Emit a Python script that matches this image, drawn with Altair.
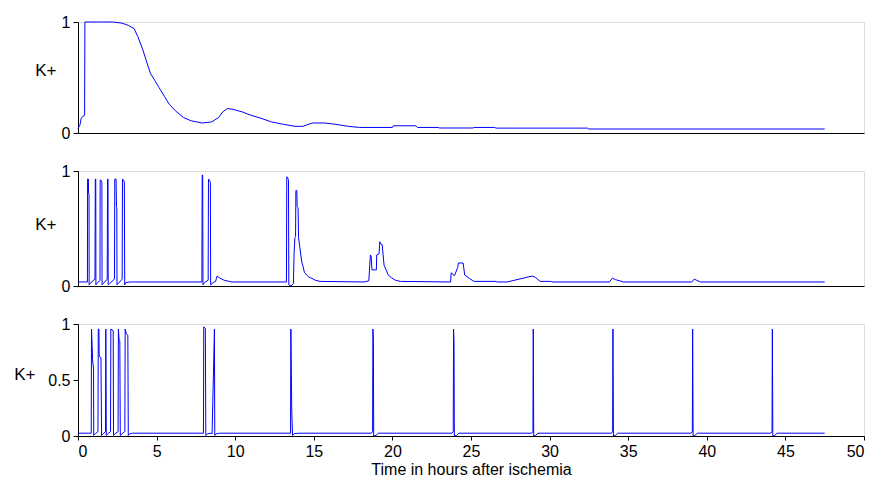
import altair as alt
import pandas as pd

# ---------------- data ----------------
top_t = [0, 0.12, 0.2, 0.3, 0.42, 0.44, 1.5, 2.2, 2.8, 3.2, 3.57, 3.8, 4.1, 4.35, 4.6, 4.9, 5.15,
         5.5, 5.8, 6.2, 6.7, 7.2, 7.9, 8.5, 8.95, 9.2, 9.5, 9.8, 10.45, 11.0, 11.7, 12.3, 13.0,
         13.8, 14.3, 14.9, 15.7, 16.3, 17.2, 17.9, 20.0, 20.05, 21.5, 21.6, 22.9, 23.0, 25.1,
         25.2, 26.5, 26.6, 32.4, 32.5, 47.5]
top_k = [0.04, 0.07, 0.13, 0.15, 0.16, 1.0, 1.0, 1.0, 0.99, 0.97, 0.94, 0.87, 0.76, 0.65, 0.54,
         0.47, 0.41, 0.33, 0.26, 0.2, 0.14, 0.11, 0.09, 0.10, 0.14, 0.19, 0.22, 0.215, 0.19, 0.16,
         0.13, 0.10, 0.08, 0.06, 0.06, 0.09, 0.09, 0.08, 0.06, 0.05, 0.05, 0.065, 0.065, 0.05,
         0.05, 0.045, 0.045, 0.05, 0.05, 0.044, 0.044, 0.036, 0.036]

mid_t = [0, 0.6, 0.61, 0.66, 0.67, 0.7, 0.71, 0.75, 1.08, 1.1, 1.13, 1.14, 1.2, 1.4, 1.41, 1.47,
         1.52, 1.53, 1.6, 1.86, 1.88, 1.91, 1.92, 2.0, 2.32, 2.34, 2.42, 2.45, 2.47, 2.48, 2.55,
         2.81, 2.83, 2.9, 2.95, 2.97, 3.05, 3.3, 7.88, 7.9, 7.93, 7.95, 8.05, 8.28, 8.3, 8.36,
         8.42, 8.44, 8.6, 8.75, 8.85, 9.0, 9.3, 9.8, 13.26, 13.28, 13.34, 13.39, 13.41, 13.55,
         13.7, 13.75, 13.8, 13.84, 13.86, 13.92, 13.94, 14.0, 14.03, 14.1, 14.17, 14.25, 14.3,
         14.4, 14.55, 14.7, 14.87, 15.1, 15.4, 18.2, 18.5, 18.6, 18.65, 18.7, 18.98, 19.0, 19.15,
         19.2, 19.3, 19.35, 19.47, 19.6, 19.73, 19.96, 20.2, 20.5, 23.7, 23.74, 23.95, 24.15,
         24.2, 24.5, 24.6, 24.9, 25.2, 26.6, 26.65, 27.3, 28.9, 29.1, 29.4, 30.1, 30.15, 33.8,
         34.0, 34.2, 34.7, 39.05, 39.2, 39.35, 39.6, 47.5]
mid_k = [0.035, 0.035, 0.93, 0.93, 0.81, 0.8, 0.01, 0.02, 0.06, 0.93, 0.93, 0.01, 0.02, 0.05,
         0.92, 0.92, 0.9, 0.01, 0.02, 0.06, 0.93, 0.93, 0.01, 0.02, 0.06, 0.93, 0.93, 0.69, 0.68,
         0.01, 0.02, 0.06, 0.93, 0.92, 0.9, 0.01, 0.03, 0.035, 0.035, 0.965, 0.965, 0.01, 0.03,
         0.05, 0.93, 0.92, 0.9, 0.01, 0.03, 0.04, 0.087, 0.07, 0.05, 0.035, 0.035, 0.95, 0.94,
         0.92, 0.01, 0.0, 0.02, 0.3, 0.42, 0.43, 0.83, 0.83, 0.69, 0.68, 0.42, 0.35, 0.27, 0.2,
         0.18, 0.12, 0.095, 0.075, 0.067, 0.05, 0.04, 0.035, 0.045, 0.27, 0.26, 0.14, 0.14, 0.27,
         0.28, 0.385, 0.36, 0.36, 0.18, 0.14, 0.096, 0.07, 0.05, 0.04, 0.035, 0.115, 0.09, 0.16,
         0.2, 0.2, 0.095, 0.065, 0.04, 0.04, 0.035, 0.035, 0.087, 0.075, 0.04, 0.04, 0.035,
         0.035, 0.068, 0.055, 0.035, 0.035, 0.06, 0.05, 0.035, 0.035]

bot_t = [0, 0.84, 0.86, 0.93, 0.99, 1.0, 1.1, 1.27, 1.29, 1.33, 1.35, 1.46, 1.5, 1.6, 1.75, 1.77,
         1.8, 1.9, 2.07, 2.09, 2.24, 2.26, 2.35, 2.55, 2.57, 2.62, 2.66, 2.69, 2.8, 2.98, 3.0,
         3.08, 3.17, 3.2, 3.3, 3.46, 7.98, 8.0, 8.1, 8.13, 8.25, 8.45, 8.53, 8.68, 8.7, 8.8, 9.0,
         13.52, 13.54, 13.6, 13.65, 13.75, 14.0,
         18.66, 18.74, 18.76, 18.79, 18.81, 18.95, 19.1,
         23.79, 23.87, 23.89, 23.92, 23.94, 24.08, 24.23,
         28.86, 28.94, 28.96, 28.99, 29.11, 29.26,
         33.93, 34.01, 34.03, 34.06, 34.18, 34.33,
         39.0, 39.08, 39.1, 39.13, 39.25, 39.4,
         44.07, 44.15, 44.17, 44.2, 44.32, 44.47, 47.5]
bot_k = [0.025, 0.025, 0.955, 0.68, 0.6, 0.005, 0.02, 0.04, 0.955, 0.955, 0.71, 0.70, 0.005, 0.02,
         0.04, 0.955, 0.005, 0.02, 0.04, 0.955, 0.94, 0.005, 0.02, 0.04, 0.955, 0.85, 0.85,
         0.005, 0.02, 0.04, 0.955, 0.91, 0.90, 0.005, 0.02, 0.025, 0.025, 0.975, 0.96, 0.005,
         0.02, 0.025, 0.02, 0.955, 0.005, 0.02, 0.025,
         0.025, 0.955, 0.21, 0.005, 0.02, 0.025,
         0.025, 0.04, 0.955, 0.87, 0.0, 0.005, 0.025,
         0.025, 0.04, 0.955, 0.83, 0.0, 0.005, 0.025,
         0.025, 0.04, 0.955, 0.0, 0.005, 0.025,
         0.025, 0.04, 0.955, 0.0, 0.005, 0.025,
         0.025, 0.04, 0.955, 0.0, 0.005, 0.025,
         0.025, 0.04, 0.955, 0.0, 0.005, 0.025, 0.025]

x_ticks = [0, 5, 10, 15, 20, 25, 30, 35, 40, 45, 50]
y_ticks_top = [0, 1]
y_ticks_bot = [0, 0.5, 1]

W = 786
H_TOP, H_MID, H_BOT = 111, 115, 112


def line_layer(t, k, xaxis, yaxis):
    df = pd.DataFrame({"t": t, "k": k})
    return alt.Chart(df).mark_line(color="#0000ff", strokeWidth=1).encode(
        x=alt.X("t:Q", scale=alt.Scale(domain=[0, 50]), axis=xaxis),
        y=alt.Y("k:Q", scale=alt.Scale(domain=[0, 1]), axis=yaxis),
    )


def y_axis(values, title_x, title_y):
    return alt.Axis(values=values, format="~g", grid=False, tickSize=5, tickColor="black",
                    domainColor="black", labelFontSize=16, labelColor="black", labelPadding=3,
                    title="K+", titleAngle=0, titleAlign="right", titleBaseline="middle",
                    titleX=title_x, titleY=title_y, titleFontSize=17,
                    titleFontWeight="normal", titleColor="black")


plain_x = alt.Axis(labels=False, tickSize=0, grid=False, domainColor="black", title="")

top = line_layer(top_t, top_k, plain_x, y_axis(y_ticks_top, -22, 48)).properties(
    width=W, height=H_TOP)
mid = line_layer(mid_t, mid_k, plain_x, y_axis(y_ticks_top, -22, 53)).properties(
    width=W, height=H_MID)

bot_x = alt.Axis(values=x_ticks, grid=False, tickSize=4, tickColor="black",
                 domainColor="black", labelFontSize=16, labelColor="black", labelPadding=3,
                 title="Time in hours after ischemia", titleFontSize=16,
                 titleFontWeight="normal", titleColor="black", titlePadding=2)
bot = line_layer(bot_t, bot_k, bot_x, y_axis(y_ticks_bot, -43, 50)).properties(
    width=W, height=H_BOT)

chart = alt.vconcat(top, mid, bot, spacing=20)

chart.save("out.html", embed_options={"renderer": "svg", "actions": False})
